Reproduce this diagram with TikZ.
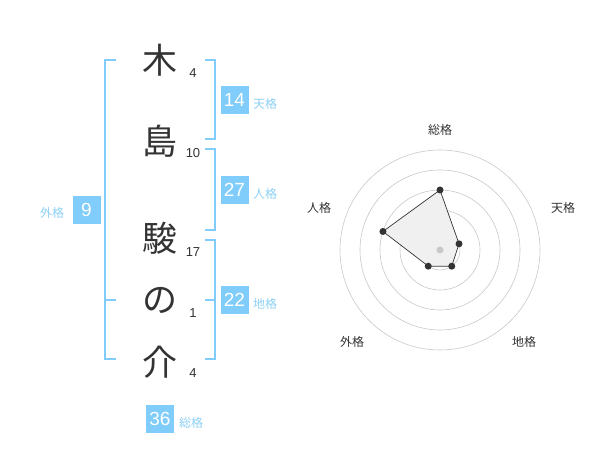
\documentclass[tikz,border=0pt]{standalone}
\usepackage{fontspec}
\setmainfont{Liberation Sans}
\newfontfamily\cjk{Noto Sans CJK JP}
\definecolor{boxblue}{RGB}{128,204,250}
\definecolor{lblblue}{RGB}{140,208,245}
\definecolor{txt}{RGB}{51,51,51}
\definecolor{ringgray}{RGB}{200,200,200}
\begin{document}
\begin{tikzpicture}[x=1pt,y=-1pt,
  kanji/.style={font=\cjk\fontsize{35}{35}\selectfont, text=txt, inner sep=0},
  strokes/.style={font=\fontsize{13}{13}\selectfont, text=txt, inner sep=0},
  valbox/.style={fill=boxblue, minimum size=28pt, inner sep=0, text=white, font=\fontsize{19}{19}\selectfont},
  kaku/.style={font=\cjk\fontsize{12}{12}\selectfont, text=lblblue, inner sep=0, anchor=west},
  brk/.style={draw=boxblue, line width=2pt},
  ring/.style={draw=ringgray, line width=0.6pt},
  axlbl/.style={font=\cjk\fontsize{12}{12}\selectfont, text=txt, inner sep=0},
  pt/.style={circle, fill=txt, inner sep=0, minimum size=7pt}]
\useasboundingbox (0,0) rectangle (600,470);
% characters
\node[kanji] (c1) at (160,60) {木};
\node[kanji] (c2) at (160,141) {島};
\node[kanji] (c3) at (160,238) {駿};
\node[kanji] (c4) at (160,300) {の};
\node[kanji] (c5) at (160,362) {介};
\node[strokes] (s1) at (193,73) {4};
\node[strokes] (s2) at (193,153) {10};
\node[strokes] (s3) at (193,252) {17};
\node[strokes] (s4) at (193,313) {1};
\node[strokes] (s5) at (193,373) {4};
% brackets
\draw[brk] (205,60) -- (215,60) -- (215,139) -- (205,139);
\draw[brk] (205,149) -- (215,149) -- (215,230) -- (205,230);
\draw[brk] (205,240) -- (215,240) -- (215,359) -- (205,359);
\draw[brk] (205,300) -- (215,300);
\draw[brk] (116,60) -- (105,60) -- (105,359) -- (116,359);
\draw[brk] (105,300) -- (116,300);
% value boxes
\node[valbox] (b14) at (234.5,100) {14};
\node[kaku] (k14) at (253,104) {天格};
\node[valbox] (b27) at (234.5,190) {27};
\node[kaku] (k27) at (253,194) {人格};
\node[valbox] (b22) at (234.5,300) {22};
\node[kaku] (k22) at (253,304) {地格};
\node[valbox] (b9) at (86.5,210) {9};
\node[kaku] (k9) at (40,213) {外格};
\node[valbox] (b36) at (160,419) {36};
\node[kaku] (k36) at (179,423) {総格};
% radar
\begin{scope}[shift={(440,250)}, yscale=-1]
  \foreach \r in {20,40,60,80,100} \draw[ring] (0,0) circle (\r);
  \coordinate (p1) at (90:60);
  \coordinate (p2) at (18:20);
  \coordinate (p3) at (-54:20);
  \coordinate (p4) at (-126:20);
  \coordinate (p5) at (162:60);
  \fill[black!6] (p1) -- (p2) -- (p3) -- (p4) -- (p5) -- cycle;
  \draw[txt, line width=0.7pt] (p1) -- (p2) -- (p3) -- (p4) -- (p5) -- cycle;
  \node[circle, fill=ringgray, inner sep=0, minimum size=7pt] (ctr) at (0,0) {};
  \foreach \p in {p1,p2,p3,p4,p5} \node[pt] (d\p) at (\p) {};
\end{scope}
\node[axlbl] (a1) at (440,130) {総格};
\node[axlbl] (a2) at (563,208) {天格};
\node[axlbl] (a3) at (524,342) {地格};
\node[axlbl] (a4) at (352,342) {外格};
\node[axlbl] (a5) at (319,208) {人格};
\end{tikzpicture}
\end{document}
